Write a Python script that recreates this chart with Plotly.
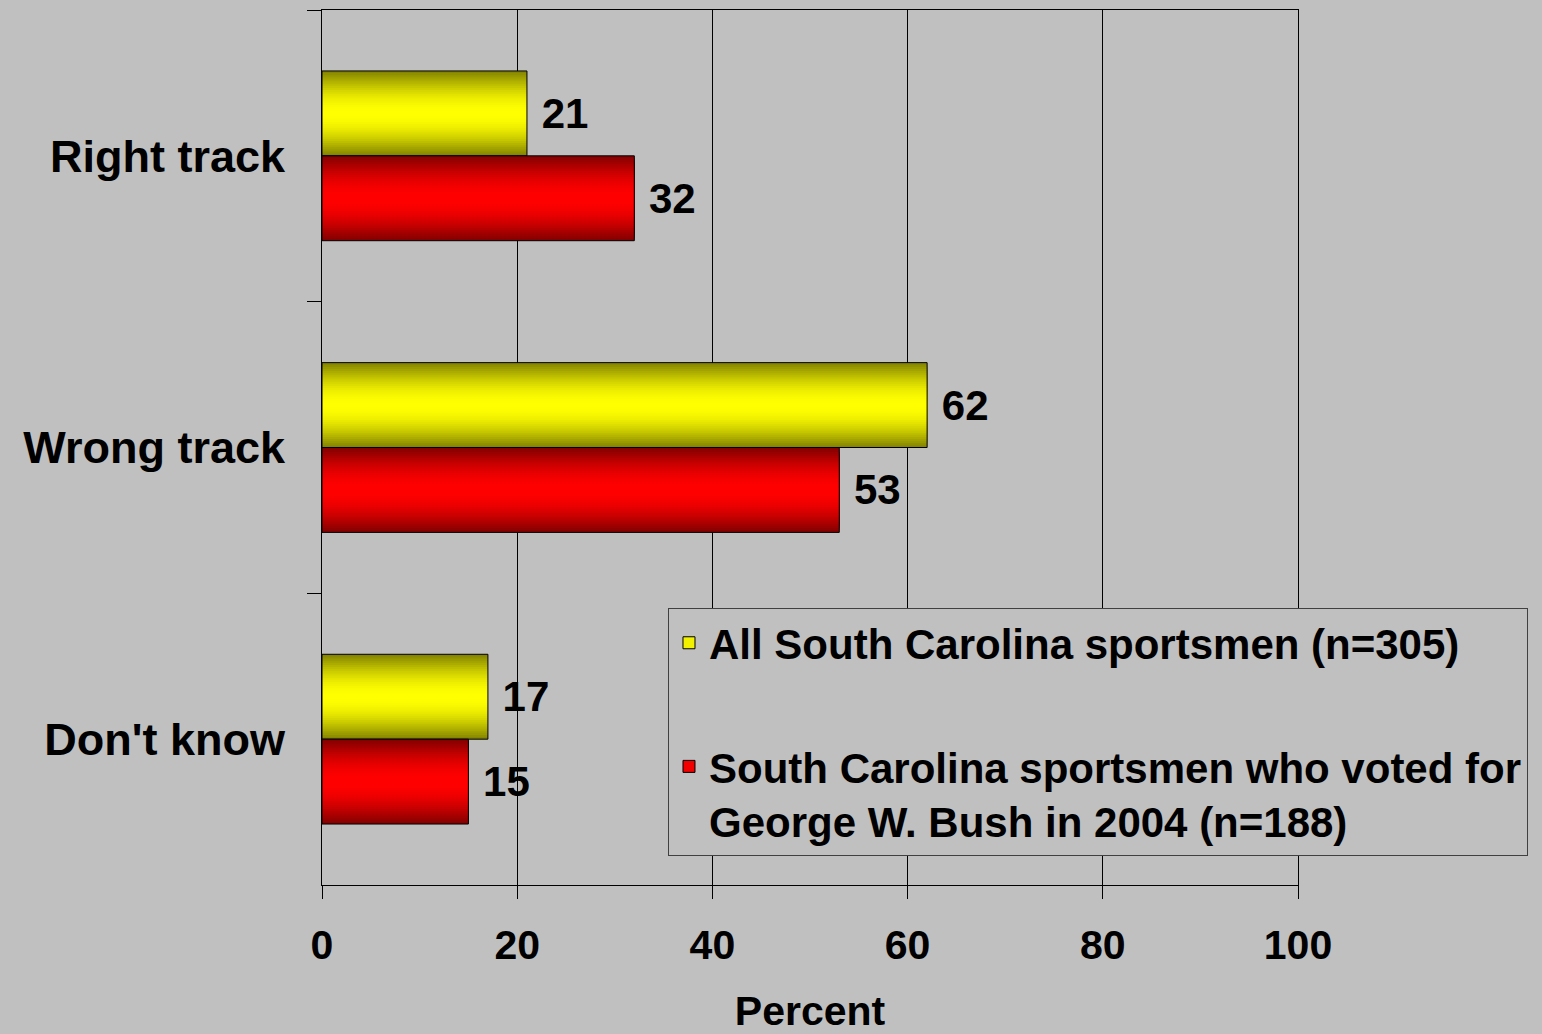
import numpy as np
import plotly.graph_objects as go

# ---- data ----
categories = ["Right track", "Wrong track", "Don't know"]
all_sportsmen = [21, 62, 17]
bush_voters = [32, 53, 15]
series_names = [
    "All South Carolina sportsmen (n=305)",
    "South Carolina sportsmen who voted for<br>George W. Bush in 2004 (n=188)",
]
x_ticks = [0, 20, 40, 60, 80, 100]

# ---- style ----
FONT = "Liberation Sans, Arial, sans-serif"
BG = "#C0C0C0"
W = 0.291          # bar thickness in category units
N = 20             # gradient layers

series = [
    (all_sportsmen, series_names[0], (128, 128, 0), (255, 255, 0), -W),
    (bush_voters, series_names[1], (128, 0, 0), (255, 0, 0), 0.0),
]

fig = go.Figure()

for vals, name, dark, bright, base in series:
    # gradient layers (cylinder-like shading)
    for k in range(N):
        pk = k / (2 * N)
        pm = (k + 0.5) / (2 * N)
        s = np.sin(np.pi * pm)
        col = tuple(int(round(d + (b - d) * s)) for d, b in zip(dark, bright))
        fig.add_trace(go.Bar(
            x=vals, y=categories, orientation="h",
            width=W * (1 - 2 * pk), offset=base + W * pk,
            marker=dict(color="rgb(%d,%d,%d)" % col, line=dict(width=0)),
            showlegend=False, hoverinfo="skip",
        ))
    # outline + value labels
    fig.add_trace(go.Bar(
        x=vals, y=categories, orientation="h",
        width=W, offset=base,
        marker=dict(color="rgba(0,0,0,0)", line=dict(color="black", width=1)),
        text=vals, texttemplate="\u00a0%{x}", textposition="outside",
        constraintext="none", cliponaxis=False,
        textfont=dict(family=FONT, size=42, color="black", weight="bold"),
        showlegend=False, hoverinfo="skip",
    ))
    # legend entry
    mid = tuple(int(round(d + (b - d) * 0.9)) for d, b in zip(dark, bright))
    fig.add_trace(go.Bar(
        x=[None], y=[None], orientation="h", name=name, legendgroup=name,
        marker=dict(color="rgb(%d,%d,%d)" % mid, line=dict(color="black", width=1)),
        showlegend=True,
    ))

fig.update_layout(
    width=1542, height=1034,
    margin=dict(l=322, r=244, t=10, b=149),
    paper_bgcolor=BG, plot_bgcolor=BG,
    barmode="overlay",
    font=dict(family=FONT, color="black", size=40, weight="bold"),
    legend=dict(
        x=0.3545, y=0.3166, xanchor="left", yanchor="top",
        bgcolor=BG, bordercolor="#404040", borderwidth=1,
        font=dict(family=FONT, size=42, color="black", weight="bold"),
        tracegroupgap=66, valign="top", traceorder="grouped",
    ),
    xaxis=dict(
        range=[0, 100], tickvals=x_ticks, showgrid=True, gridcolor="black", gridwidth=1,
        showline=True, linecolor="black", linewidth=1, mirror=True,
        ticks="outside", ticklen=13, tickcolor="black", tickwidth=1,
        tickfont=dict(family=FONT, size=41, weight="bold"),
        ticklabelstandoff=11, zeroline=False, automargin=False,
        title=dict(text="Percent", font=dict(family=FONT, size=41, weight="bold"), standoff=49),
    ),
    yaxis=dict(
        type="category", categoryorder="array", categoryarray=categories,
        range=[2.5, -0.5], tickson="boundaries",
        ticks="outside", ticklen=14, tickcolor="black", tickwidth=1,
        showline=True, linecolor="black", linewidth=1, mirror=True,
        showgrid=False, zeroline=False, automargin=False,
        tickfont=dict(family=FONT, size=45, weight="bold"),
        ticklabelstandoff=27,
    ),
)

fig.write_html(
    "out.html",
    config={"displayModeBar": False},
    post_script="document.body.style.margin='0';document.body.style.background='%s';" % BG,
)
